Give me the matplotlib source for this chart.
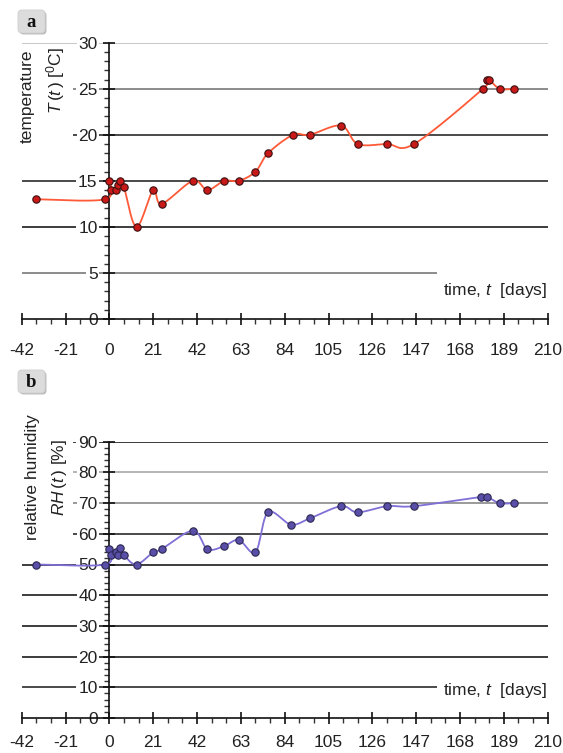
import numpy as np
import matplotlib
matplotlib.use('Agg')
import matplotlib.pyplot as plt
from matplotlib import font_manager
from matplotlib.patches import FancyBboxPatch, Rectangle
from matplotlib.ticker import MultipleLocator
from matplotlib.transforms import IdentityTransform

# ---------------- data ----------------
days_T = [-35, -2, 0, 1, 3, 4, 5, 7, 13, 21, 25, 40, 47, 55, 62, 70, 76, 88, 96,
          111, 119, 133, 146, 179, 181, 182, 187, 194]
temp_T = [13, 13, 15, 14, 14, 14.5, 15, 14.3, 10, 14, 12.5, 15, 14, 15, 15, 16, 18, 20, 20,
          21, 19, 19, 19, 25, 26, 26, 25, 25]

days_RH = [-35, -2, 0, 1, 3, 4, 5, 7, 13, 21, 25, 40, 47, 55, 62, 70, 76, 87, 96,
           111, 119, 133, 146, 178, 181, 187, 194]
rh_RH = [50, 50, 55, 53, 54, 53, 55.5, 53, 50, 54, 55, 61, 55, 56, 58, 54, 67, 63, 65,
         69, 67, 69, 69, 72, 72, 70, 70]

x_ticks = [-42, -21, 0, 21, 42, 63, 84, 105, 126, 147, 168, 189, 210]
T_ticks = [0, 5, 10, 15, 20, 25, 30]
RH_ticks = [0, 10, 20, 30, 40, 50, 60, 70, 80, 90]

# ---------------- fonts ----------------
names = {f.name for f in font_manager.fontManager.ttflist}
tick_font = 'Liberation Sans Narrow' if 'Liberation Sans Narrow' in names else 'Liberation Sans'
plt.rcParams['font.family'] = ['Liberation Sans', 'DejaVu Sans']
plt.rcParams['mathtext.fontset'] = 'custom'
plt.rcParams['mathtext.rm'] = 'Liberation Sans'
plt.rcParams['mathtext.it'] = 'Liberation Sans:italic'
plt.rcParams['axes.unicode_minus'] = False

W, H = 563, 753
fig = plt.figure(figsize=(W / 100, H / 100), dpi=100)


def px_axes(x0, y0, x1, y1):
    return [x0 / W, 1 - y1 / H, (x1 - x0) / W, (y1 - y0) / H]


def smooth(ax, xs, ys, n=24):
    pts = ax.transData.transform(np.column_stack([xs, ys]))
    P = np.vstack([pts[0], pts, pts[-1]])
    t = np.linspace(0, 1, n, endpoint=False)[:, None]
    h00 = 2 * t**3 - 3 * t**2 + 1
    h10 = t**3 - 2 * t**2 + t
    h01 = -2 * t**3 + 3 * t**2
    h11 = t**3 - t**2
    segs = []
    for i in range(1, len(P) - 2):
        p0, p1, p2, p3 = P[i - 1], P[i], P[i + 1], P[i + 2]
        m1 = 0.5 * (p2 - p0)
        m2 = 0.5 * (p3 - p1)
        segs.append(h00 * p1 + h10 * m1 + h01 * p2 + h11 * m2)
    segs.append(P[-2][None, :])
    out = np.vstack(segs)
    return ax.transData.inverted().transform(out).T


def style_axes(ax, ymax, yticks, yminor, grid_colors, short_level, xpad):
    ax.set_xlim(-42, 210)
    ax.set_ylim(0, ymax)
    for s in ['top', 'right']:
        ax.spines[s].set_visible(False)
    ax.spines['left'].set_position(('data', 0))
    for s in ['left', 'bottom']:
        ax.spines[s].set_linewidth(1.2)
        ax.spines[s].set_color('#111111')
    ax.set_xticks(x_ticks)
    ax.set_yticks(yticks)
    ax.xaxis.set_minor_locator(MultipleLocator(7))
    ax.yaxis.set_minor_locator(MultipleLocator(yminor))
    ax.tick_params(which='major', direction='inout', length=9, width=1.2, color='#111111',
                   labelsize=12.5, labelcolor='#222222')
    ax.tick_params(which='minor', direction='out', length=3.5, width=1.0, color='#333333')
    ax.tick_params(axis='x', which='major', pad=xpad)
    ax.tick_params(axis='y', which='major', pad=4)
    for lab in ax.get_xticklabels():
        lab.set_family(tick_font)
    for lab in ax.get_yticklabels():
        lab.set_family(tick_font)
        lab.set_bbox(dict(fc='white', ec='none', pad=1.2))
    ax.patch.set_alpha(0)
    for lvl, c in grid_colors.items():
        xe = 157 if lvl == short_level else 210
        ax.hlines(lvl, -42, xe, colors=c, lw=1.4, zorder=0.5)


# ---------------- panel a ----------------
ax1 = fig.add_axes(px_axes(21.7, 42.7, 547.7, 319))
style_axes(ax1, 30, T_ticks, 1,
           {30: '#c8c8c8', 25: '#8c8c8c', 20: '#4a4a4a', 15: '#4a4a4a', 10: '#3c3c3c', 5: '#8c8c8c'},
           5, 13)
sx, sy = smooth(ax1, days_T, temp_T)
ax1.plot(sx, sy, color='#ff5a38', lw=1.3, zorder=3)
ax1.plot(days_T, temp_T, 'o', ms=5.3, mfc='#c81818', mec='#3a1010', mew=0.8, zorder=4)

# ---------------- panel b ----------------
ax2 = fig.add_axes(px_axes(21.7, 441.7, 547.7, 718))
style_axes(ax2, 90, RH_ticks, 2,
           {90: '#3c3c3c', 80: '#b4b4b4', 70: '#9a9a9a', 60: '#4a4a4a', 50: '#3c3c3c',
            40: '#3c3c3c', 30: '#3c3c3c', 20: '#3c3c3c', 10: '#4a4a4a'},
           10, 8)
sx, sy = smooth(ax2, days_RH, rh_RH)
ax2.plot(sx, sy, color='#7f6fd6', lw=1.3, zorder=3)
ax2.plot(days_RH, rh_RH, 'o', ms=5.3, mfc='#5a4fa8', mec='#2a2850', mew=0.8, zorder=4)

# ---------------- white boxes behind y labels ----------------
for (x0, y0, x1, y1) in [(14, 46, 73, 150), (14, 405, 73, 549)]:
    fig.patches.append(Rectangle((x0, H - y1), x1 - x0, y1 - y0, transform=IdentityTransform(),
                                 fc='white', ec='none', zorder=2))

# y labels
fig.text(27 / W, 1 - 96 / H, 'temperature', rotation=90, ha='center', va='center',
         fontsize=12.5, color='#222222', zorder=5)
fig.text(56 / W, 1 - 80 / H, r'$T\,(t\,)$ [$^{0}$C]', rotation=90, ha='center', va='center',
         fontsize=12.5, color='#222222', zorder=5)
fig.text(33 / W, 1 - 477 / H, 'relative humidity', rotation=90, ha='center', va='center',
         fontsize=12.5, color='#222222', zorder=5)
fig.text(60 / W, 1 - 477 / H, r'$RH\,(t\,)$ [%]', rotation=90, ha='center', va='center',
         fontsize=12.5, color='#222222', zorder=5)

# x labels
for yc in [290.7, 690]:
    fig.text(547 / W, 1 - yc / H, r'time, $t$  [days]', ha='right', va='center',
             fontsize=12.5, color='#222222', zorder=5)

# panel letters
for letter, (x0, y0) in [('a', (18, 10)), ('b', (18, 370))]:
    bw, bh = 27, 23
    fig.patches.append(FancyBboxPatch((x0 + 1.5, H - y0 - bh - 1.5), bw, bh,
                                      boxstyle='round,pad=0,rounding_size=4',
                                      transform=IdentityTransform(), fc='#bdbdbd', ec='none', zorder=2))
    fig.patches.append(FancyBboxPatch((x0, H - y0 - bh), bw, bh,
                                      boxstyle='round,pad=0,rounding_size=4',
                                      transform=IdentityTransform(), fc='#dcdcdc', ec='#cfcfcf',
                                      lw=0.6, zorder=3))
    fig.text((x0 + bw / 2) / W, 1 - (y0 + bh / 2 + 1) / H, letter, ha='center', va='center',
             fontsize=13.5, fontweight='bold', family='Liberation Serif', color='#111111', zorder=6)

fig.savefig('out.png', dpi=100)
